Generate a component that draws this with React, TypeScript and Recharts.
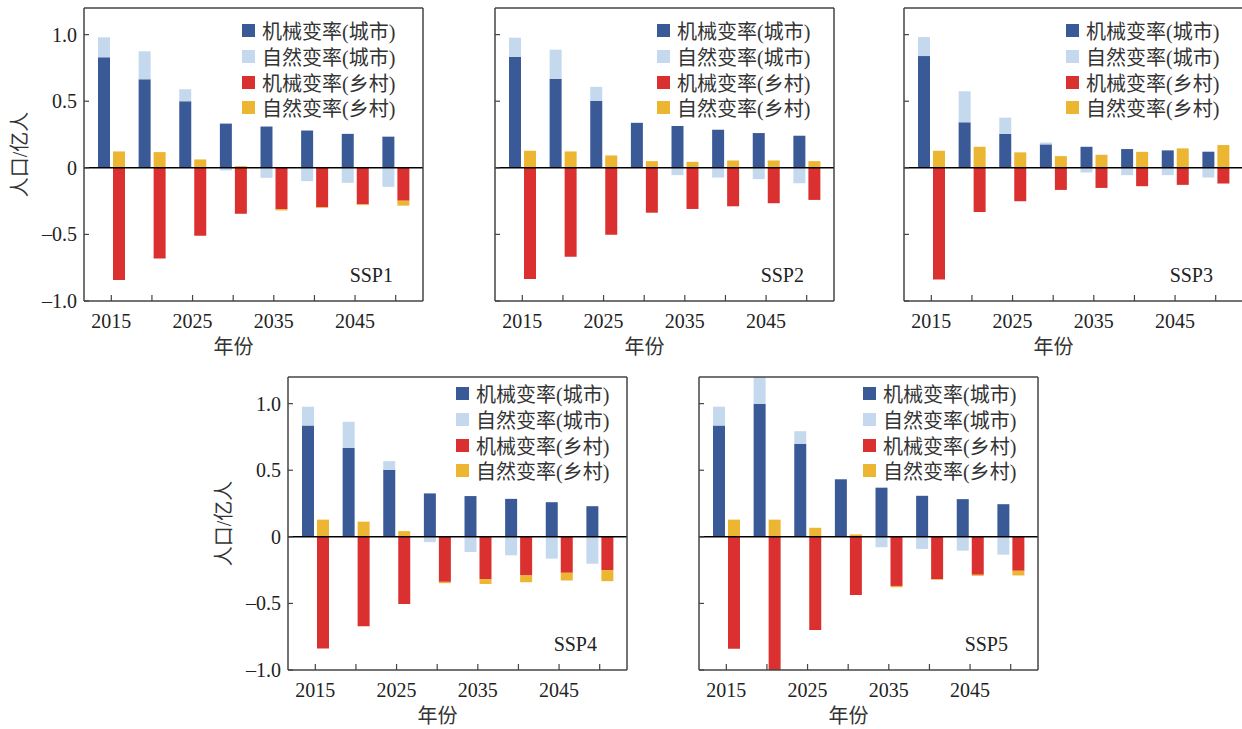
import React from 'react';
import { BarChart, Bar, XAxis, YAxis, ReferenceLine, Legend } from 'recharts';

const years = [2015, 2020, 2025, 2030, 2035, 2040, 2045, 2050];
const labeledYears = [2015, 2025, 2035, 2045];
const yTicks = [-1, -0.5, 0, 0.5, 1];
const yTickLabels = ['–1.0', '–0.5', '0', '0.5', '1.0'];
const seriesNames = ['机械变率(城市)', '自然变率(城市)', '机械变率(乡村)', '自然变率(乡村)'];
const seriesColors = ['#3A5A97', '#C5D9EE', '#DB3030', '#ECB532'];
const panelTitles = ['SSP1', 'SSP2', 'SSP3', 'SSP4', 'SSP5'];
const yAxisTitle = '人口/亿人';
const xAxisTitle = '年份';

// SSP1
const ssp1UrbanMech = [0.83, 0.665, 0.5, 0.332, 0.31, 0.28, 0.255, 0.234];
const ssp1UrbanNat = [0.15, 0.21, 0.09, -0.02, -0.075, -0.1, -0.113, -0.143];
const ssp1RuralMech = [-0.843, -0.68, -0.51, -0.345, -0.31, -0.295, -0.274, -0.247];
const ssp1RuralNat = [0.123, 0.118, 0.063, 0.013, -0.01, -0.006, -0.006, -0.037];
// SSP2
const ssp2UrbanMech = [0.834, 0.668, 0.503, 0.337, 0.314, 0.286, 0.261, 0.241];
const ssp2UrbanNat = [0.143, 0.219, 0.105, 0.005, -0.055, -0.073, -0.085, -0.116];
const ssp2RuralMech = [-0.834, -0.668, -0.503, -0.337, -0.309, -0.289, -0.266, -0.241];
const ssp2RuralNat = [0.128, 0.123, 0.093, 0.05, 0.045, 0.055, 0.055, 0.05];
// SSP3
const ssp3UrbanMech = [0.839, 0.342, 0.254, 0.176, 0.158, 0.141, 0.131, 0.121];
const ssp3UrbanNat = [0.143, 0.233, 0.123, 0.014, -0.035, -0.055, -0.055, -0.073];
const ssp3RuralMech = [-0.839, -0.332, -0.251, -0.166, -0.151, -0.138, -0.128, -0.118];
const ssp3RuralNat = [0.128, 0.158, 0.116, 0.088, 0.098, 0.12, 0.146, 0.171];
// SSP4
const ssp4UrbanMech = [0.836, 0.667, 0.503, 0.326, 0.306, 0.285, 0.26, 0.23];
const ssp4UrbanNat = [0.141, 0.197, 0.065, -0.04, -0.114, -0.139, -0.164, -0.202];
const ssp4RuralMech = [-0.838, -0.672, -0.505, -0.338, -0.318, -0.29, -0.27, -0.25];
const ssp4RuralNat = [0.129, 0.114, 0.043, -0.01, -0.036, -0.051, -0.058, -0.083];
// SSP5
const ssp5UrbanMech = [0.836, 1.0, 0.697, 0.432, 0.369, 0.308, 0.283, 0.245];
const ssp5UrbanNat = [0.141, 0.23, 0.096, 0.0, -0.078, -0.091, -0.104, -0.134];
const ssp5RuralMech = [-0.841, -1.08, -0.7, -0.437, -0.369, -0.318, -0.285, -0.255];
const ssp5RuralNat = [0.129, 0.129, 0.068, 0.018, -0.01, -0.005, -0.008, -0.035];

const build = (um: number[], un: number[], rm: number[], rn: number[]) =>
  years.map((y, i) => ({ year: y, um: um[i], un: un[i], rm: rm[i], rn: rn[i] }));

const panelData = [
  build(ssp1UrbanMech, ssp1UrbanNat, ssp1RuralMech, ssp1RuralNat),
  build(ssp2UrbanMech, ssp2UrbanNat, ssp2RuralMech, ssp2RuralNat),
  build(ssp3UrbanMech, ssp3UrbanNat, ssp3RuralMech, ssp3RuralNat),
  build(ssp4UrbanMech, ssp4UrbanNat, ssp4RuralMech, ssp4RuralNat),
  build(ssp5UrbanMech, ssp5UrbanNat, ssp5RuralMech, ssp5RuralNat),
];

const panelLayout = [
  { left: 84, top: 8, showY: true, legendLeft: 158, legendTop: 18 },
  { left: 495, top: 8, showY: false, legendLeft: 162, legendTop: 18 },
  { left: 904, top: 8, showY: false, legendLeft: 162, legendTop: 18 },
  { left: 288, top: 377, showY: true, legendLeft: 168, legendTop: 12 },
  { left: 699, top: 377, showY: false, legendLeft: 164, legendTop: 12 },
];

const FONT = "'Liberation Serif', 'Noto Sans CJK SC', serif";
const AXIS = '#444';
const M_LEFT = 84;
const M_TOP = 8;
const M_BOTTOM = 62;
const M_RIGHT = 10;
const PW = 339;
const PH = 293;

const XTick = (props: any) => {
  const { x, y, payload } = props;
  const show = labeledYears.includes(Number(payload.value));
  return (
    <g>
      <line x1={x} x2={x} y1={y} y2={y - 6} stroke={AXIS} strokeWidth={1.2} />
      {show && (
        <text x={x} y={y + 27} textAnchor="middle" fontFamily={FONT} fontSize={20} fill="#222">
          {payload.value}
        </text>
      )}
    </g>
  );
};

const makeYTick = (showLabel: boolean) => (props: any) => {
  const { x, y, payload } = props;
  const idx = yTicks.indexOf(Number(payload.value));
  return (
    <g>
      <line x1={x} x2={x + 5} y1={y} y2={y} stroke={AXIS} strokeWidth={1.2} />
      {showLabel && (
        <text x={x - 7} y={y} textAnchor="end" dominantBaseline="central" fontFamily={FONT} fontSize={20} fill="#222">
          {yTickLabels[idx]}
        </text>
      )}
    </g>
  );
};

const YLabel = (props: any) => {
  const vb = props.viewBox || {};
  const cx = vb.x + vb.width - 64;
  const cy = vb.y + vb.height / 2;
  return (
    <text x={cx} y={cy} transform={`rotate(-90 ${cx} ${cy})`} textAnchor="middle" dominantBaseline="central" fontFamily={FONT} fontSize={20} fill="#333">
      {yAxisTitle}
    </text>
  );
};

const XLabel = (props: any) => {
  const vb = props.viewBox || {};
  const cx = vb.x + vb.width / 2 - 20;
  return (
    <text x={cx} y={vb.y + 46} textAnchor="middle" dominantBaseline="central" fontFamily={FONT} fontSize={20} fill="#333">
      {xAxisTitle}
    </text>
  );
};

const makeTitle = (title: string) => (props: any) => {
  const vb = props.viewBox || {};
  return (
    <text x={vb.x + vb.width - 30} y={vb.y + vb.height + 274} textAnchor="end" fontFamily={FONT} fontSize={20} fill="#222">
      {title}
    </text>
  );
};

const LegendContent = (props: any) => {
  const items = [...(props.payload || [])].sort(
    (a: any, b: any) => seriesNames.indexOf(a.value) - seriesNames.indexOf(b.value)
  );
  return (
    <div style={{ fontFamily: FONT, fontSize: 20, color: '#333' }}>
      {items.map((e: any) => (
        <div key={e.value} style={{ display: 'flex', alignItems: 'center', height: 25.7, whiteSpace: 'nowrap' }}>
          <span style={{ display: 'inline-block', width: 13, height: 13, background: e.color, marginRight: 7 }} />
          <span>{e.value}</span>
        </div>
      ))}
    </div>
  );
};

const Panel = ({ idx }: { idx: number }) => {
  const lay = panelLayout[idx];
  const data = panelData[idx];
  const axisLine = { stroke: AXIS, strokeWidth: 1.5 };
  return (
    <div style={{ position: 'absolute', left: lay.left - M_LEFT, top: lay.top - M_TOP }}>
      <BarChart
        width={M_LEFT + PW + M_RIGHT}
        height={M_TOP + PH + M_BOTTOM}
        data={data}
        margin={{ top: 0, left: 0, right: 0, bottom: 0 }}
        stackOffset="sign"
        barSize={12}
        barGap={3}
      >
        <XAxis
          dataKey="year"
          type="category"
          padding={{ left: 7, right: 7 }}
          height={M_BOTTOM}
          tickSize={0}
          tickMargin={0}
          tickLine={false}
          axisLine={axisLine}
          tick={<XTick />}
          interval={0}
          label={XLabel}
        />
        <XAxis
          xAxisId="top"
          dataKey="year"
          orientation="top"
          height={M_TOP}
          tick={false}
          tickLine={false}
          axisLine={axisLine}
          label={makeTitle(panelTitles[idx])}
        />
        <YAxis
          type="number"
          domain={[-1, 1.2]}
          allowDataOverflow
          ticks={yTicks}
          interval={0}
          width={M_LEFT}
          tickSize={0}
          tickMargin={0}
          tickLine={false}
          axisLine={axisLine}
          tick={makeYTick(lay.showY)}
          label={lay.showY ? YLabel : undefined}
        />
        <YAxis
          yAxisId="right"
          orientation="right"
          type="number"
          domain={[0, 1]}
          width={M_RIGHT}
          tick={false}
          tickLine={false}
          axisLine={axisLine}
        />
        <Bar dataKey="um" stackId="u" name={seriesNames[0]} fill={seriesColors[0]} isAnimationActive={false} />
        <Bar dataKey="un" stackId="u" name={seriesNames[1]} fill={seriesColors[1]} isAnimationActive={false} />
        <Bar dataKey="rm" stackId="r" name={seriesNames[2]} fill={seriesColors[2]} isAnimationActive={false} />
        <Bar dataKey="rn" stackId="r" name={seriesNames[3]} fill={seriesColors[3]} isAnimationActive={false} />
        <ReferenceLine y={0} stroke="#000" strokeWidth={1.5} />
        <Legend
          layout="vertical"
          align="center"
          verticalAlign="middle"
          wrapperStyle={{ left: lay.legendLeft + M_LEFT, top: lay.legendTop, width: 200, height: 110 }}
          content={LegendContent}
        />
      </BarChart>
    </div>
  );
};

export default function App() {
  return (
    <div style={{ position: 'absolute', left: 0, top: 0, width: 1242, height: 729, overflow: 'hidden', background: '#fff' }}>
      {panelTitles.map((_, i) => (
        <Panel key={i} idx={i} />
      ))}
    </div>
  );
}
